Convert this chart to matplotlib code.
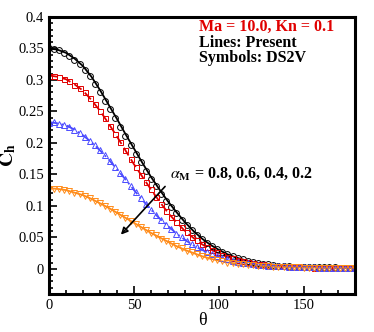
import matplotlib
matplotlib.use("Agg")
import matplotlib.pyplot as plt
from matplotlib.ticker import MultipleLocator

# present model (lines), every 5 deg
theta_line = list(range(0, 181, 5))
line_08 = [0.350, 0.348, 0.343, 0.334, 0.322, 0.305, 0.284, 0.261, 0.238, 0.214, 0.191, 0.168, 0.146,
           0.126, 0.107, 0.090, 0.074, 0.060, 0.048, 0.038, 0.030, 0.023, 0.018, 0.014, 0.011, 0.0085,
           0.0065, 0.005, 0.004, 0.0035, 0.003, 0.0027, 0.0025, 0.0022, 0.002, 0.002, 0.002]
line_06 = [0.307, 0.305, 0.301, 0.293, 0.283, 0.268, 0.251, 0.231, 0.210, 0.188, 0.166, 0.146, 0.126,
           0.107, 0.089, 0.074, 0.060, 0.049, 0.039, 0.031, 0.024, 0.019, 0.015, 0.012, 0.009, 0.007,
           0.0055, 0.0045, 0.0035, 0.003, 0.0025, 0.0022, 0.002, 0.002, 0.002, 0.002, 0.002]
line_04 = [0.233, 0.231, 0.228, 0.221, 0.212, 0.201, 0.188, 0.174, 0.158, 0.142, 0.125, 0.109, 0.094,
           0.080, 0.068, 0.056, 0.046, 0.037, 0.030, 0.024, 0.019, 0.015, 0.012, 0.0095, 0.0075, 0.006,
           0.005, 0.004, 0.0035, 0.003, 0.0025, 0.0022, 0.002, 0.002, 0.002, 0.002, 0.002]
line_02 = [0.128, 0.127, 0.125, 0.121, 0.117, 0.111, 0.104, 0.097, 0.089, 0.081, 0.073, 0.065, 0.057,
           0.050, 0.043, 0.036, 0.030, 0.025, 0.020, 0.016, 0.013, 0.010, 0.0085, 0.007, 0.0055, 0.0045,
           0.0035, 0.003, 0.0025, 0.0022, 0.002, 0.002, 0.002, 0.002, 0.002, 0.002, 0.002]

# DS2V (symbols), every 3 deg
theta_sym = list(range(0, 181, 3))
sym_08 = [0.350, 0.349, 0.347, 0.343, 0.338, 0.332, 0.325, 0.316, 0.306, 0.294, 0.281, 0.267, 0.253,
          0.239, 0.225, 0.211, 0.197, 0.183, 0.169, 0.156, 0.143, 0.131, 0.119, 0.108, 0.098, 0.088,
          0.078, 0.069, 0.061, 0.054, 0.047, 0.041, 0.036, 0.031, 0.027, 0.023, 0.020, 0.017, 0.015,
          0.013, 0.011, 0.0095, 0.008, 0.007, 0.006, 0.005, 0.0045, 0.004, 0.0035, 0.0033, 0.003,
          0.003, 0.0027, 0.0025, 0.0025, 0.0023, 0.0022, 0.002, 0.002, 0.002, 0.002]
sym_06 = [0.306, 0.306, 0.304, 0.302, 0.298, 0.292, 0.287, 0.280, 0.271, 0.261, 0.251, 0.239, 0.227,
          0.214, 0.201, 0.188, 0.174, 0.162, 0.149, 0.138, 0.126, 0.114, 0.103, 0.092, 0.083, 0.074,
          0.066, 0.058, 0.051, 0.045, 0.039, 0.034, 0.030, 0.026, 0.022, 0.019, 0.017, 0.014, 0.012,
          0.011, 0.009, 0.008, 0.007, 0.006, 0.005, 0.0045, 0.004, 0.0035, 0.003, 0.003, 0.0025,
          0.0025, 0.002, 0.002, 0.002, 0.002, 0.002, 0.002, 0.002, 0.002, 0.002]
sym_04 = [0.232, 0.233, 0.230, 0.229, 0.225, 0.221, 0.216, 0.210, 0.203, 0.196, 0.188, 0.180, 0.171,
          0.162, 0.152, 0.142, 0.132, 0.122, 0.112, 0.103, 0.094, 0.085, 0.077, 0.070, 0.063, 0.056,
          0.050, 0.044, 0.039, 0.034, 0.030, 0.026, 0.023, 0.020, 0.017, 0.015, 0.013, 0.0115, 0.010,
          0.0085, 0.0075, 0.0065, 0.0058, 0.005, 0.0045, 0.004, 0.0037, 0.0034, 0.003, 0.0028, 0.0025,
          0.0023, 0.0022, 0.002, 0.002, 0.002, 0.002, 0.002, 0.002, 0.002, 0.002]
sym_02 = [0.127, 0.127, 0.126, 0.125, 0.123, 0.121, 0.118, 0.115, 0.112, 0.108, 0.104, 0.100, 0.095,
          0.090, 0.086, 0.081, 0.076, 0.071, 0.066, 0.062, 0.057, 0.053, 0.048, 0.044, 0.040, 0.036,
          0.033, 0.029, 0.026, 0.023, 0.020, 0.018, 0.015, 0.014, 0.012, 0.010, 0.009, 0.008, 0.007,
          0.0065, 0.0055, 0.005, 0.0043, 0.0037, 0.0033, 0.003, 0.0027, 0.0025, 0.0023, 0.0021, 0.002,
          0.002, 0.002, 0.002, 0.002, 0.002, 0.002, 0.002, 0.002, 0.002, 0.002]

plt.rcParams['font.family'] = 'Liberation Serif'
plt.rcParams['mathtext.fontset'] = 'stix'

fig = plt.figure(figsize=(3.74, 3.32), dpi=100)
ax = fig.add_axes([0.131, 0.1145, 0.818, 0.8345])

red = '#e00000'
blue = '#4a4aff'
orange = '#ff8c1a'

ax.plot(theta_line, line_08, color='black', lw=1.3, ls='-')
ax.plot(theta_line, line_06, color=red, lw=1.3, ls=(0, (5, 2.5)))
ax.plot(theta_line, line_04, color=blue, lw=1.3, ls=(0, (5, 2, 1, 2)))
ax.plot(theta_line, line_02, color=orange, lw=1.3, ls='-')

mk = dict(ls='none', mfc='none', ms=4.2, mew=0.7)
ax.plot(theta_sym, sym_08, marker='o', mec='black', **mk)
ax.plot(theta_sym, sym_06, marker='s', mec=red, **{**mk, 'ms': 3.6})
ax.plot(theta_sym, sym_04, marker='^', mec=blue, **mk)
ax.plot(theta_sym, sym_02, marker='v', mec=orange, **mk)

ax.set_xlim(0, 180)
ax.set_ylim(-0.04, 0.4)
ax.xaxis.set_major_locator(MultipleLocator(50))
ax.xaxis.set_minor_locator(MultipleLocator(10))
ax.yaxis.set_major_locator(MultipleLocator(0.05))
ax.yaxis.set_minor_locator(MultipleLocator(0.01))
ax.set_yticklabels(['' if abs(v + 0.05) < 1e-9 else ('0' if abs(v) < 1e-9 else f'{v:g}') for v in ax.get_yticks()])
ax.tick_params(which='both', direction='in', top=False, right=False, labelsize=10.5, width=1.2)
ax.tick_params(which='major', length=6)
ax.tick_params(which='minor', length=3)
for s in ax.spines.values():
    s.set_linewidth(2.2)

ax.set_xlabel('θ', fontsize=13)
ax.xaxis.set_label_coords(0.5, -0.065)
ax.set_ylabel(r'$\mathbf{C_h}$', fontsize=14)
ax.yaxis.set_label_coords(-0.1, 0.5)

ax.text(88.5, 0.384, 'Ma = 10.0, Kn = 0.1', color=red, fontsize=11.5, fontweight='bold', va='center')
ax.text(88.5, 0.358, 'Lines: Present', color='black', fontsize=11.5, fontweight='bold', va='center')
ax.text(88.5, 0.334, 'Symbols: DS2V', color='black', fontsize=11.5, fontweight='bold', va='center')
ax.text(71, 0.150, r'$\alpha_\mathbf{M}$' + r' = 0.8, 0.6, 0.4, 0.2', fontsize=11.5,
        fontweight='bold', va='center')

ax.annotate('', xy=(41.2, 0.051), xytext=(69.4, 0.134),
            arrowprops=dict(arrowstyle='-|>', color='black', lw=1.2, mutation_scale=10,
                            fill=False))

fig.savefig('out.png', dpi=100)
